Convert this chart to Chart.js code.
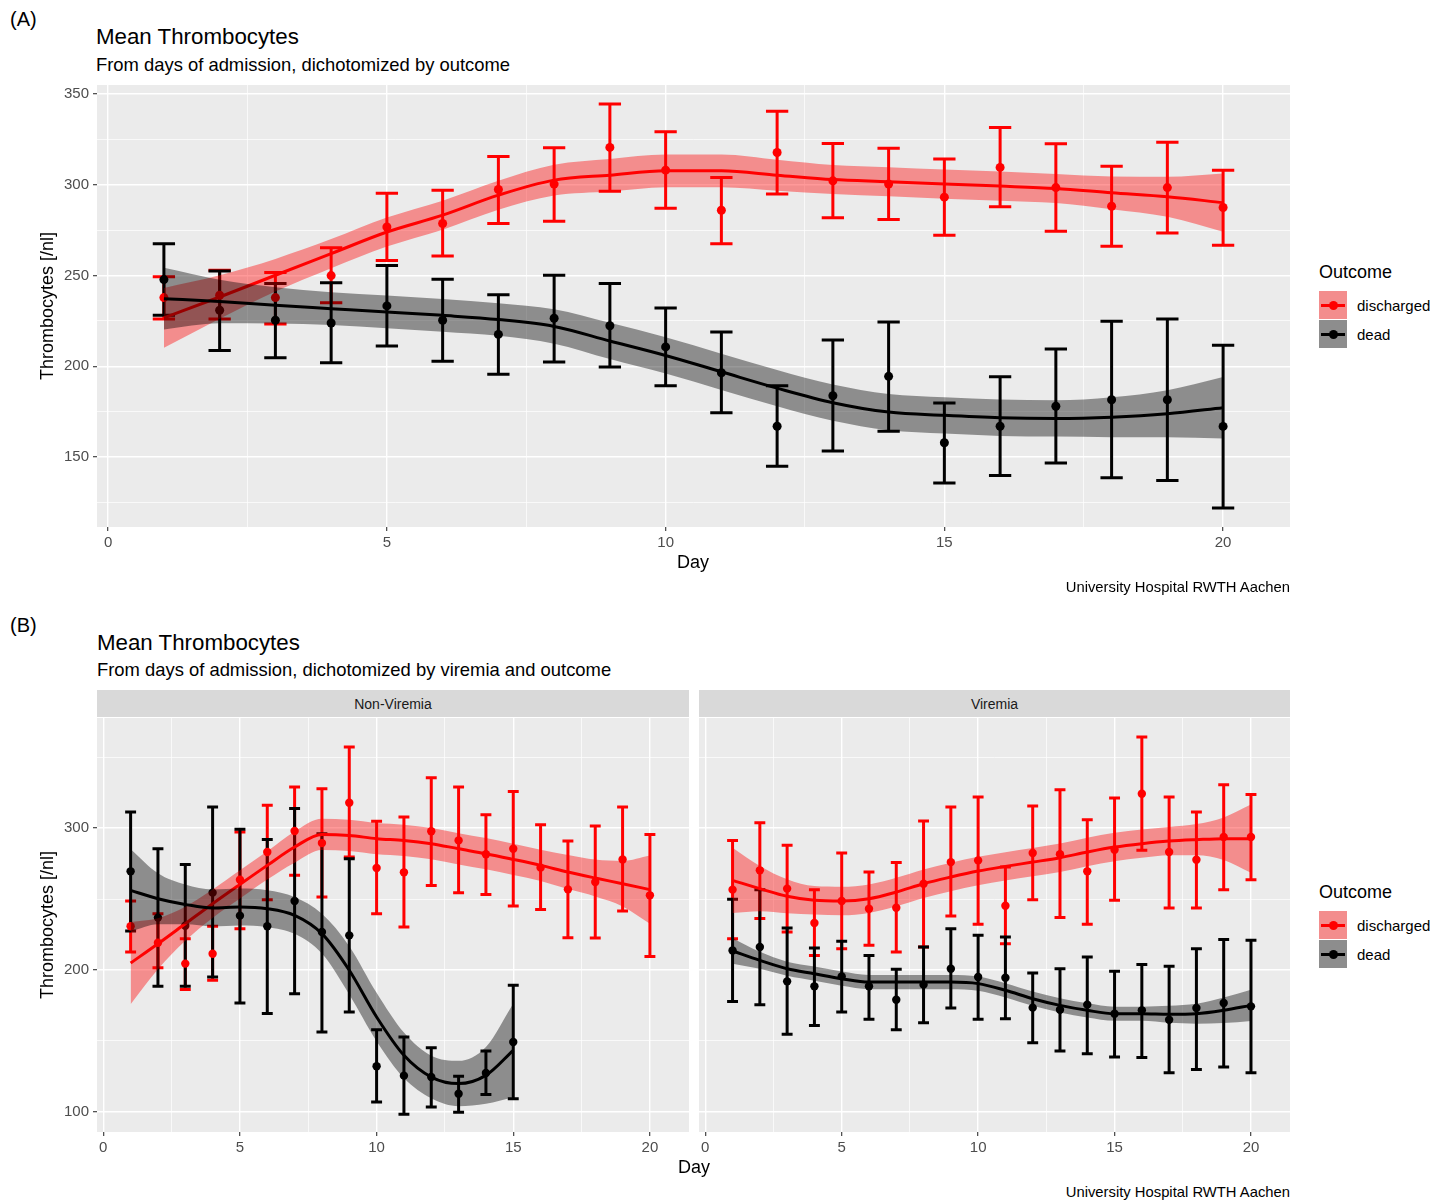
<!DOCTYPE html>
<html>
<head>
<meta charset="utf-8">
<script src="https://cdn.jsdelivr.net/npm/chart.js@4.4.1/dist/chart.umd.min.js"></script>
<style>
  body { margin: 0; background: #fff; font-family: "Liberation Sans", Arial, sans-serif; }
  #page { position: relative; width: 1449px; height: 1200px; overflow: hidden; background: #fff; }
  canvas { position: absolute; }
  .t { position: absolute; white-space: nowrap; color: #000; line-height: 1; }
  .strip { position: absolute; background: #D9D9D9; color: #1A1A1A; font-size: 14px;
           display: flex; align-items: center; justify-content: center; }
  .key { position: absolute; width: 28px; height: 28px; }
  .key i { position: absolute; left: 2px; right: 2px; top: 12.5px; height: 3px; }
  .key b { position: absolute; left: 9.5px; top: 9.5px; width: 9px; height: 9px; border-radius: 50%; }
</style>
</head>
<body>
<div id="page">
  <canvas id="chartA" width="1300" height="500" style="left:0;top:80px"></canvas>
  <canvas id="chartNV" width="689" height="460" style="left:0;top:700px"></canvas>
  <canvas id="chartV" width="591" height="460" style="left:699px;top:700px"></canvas>
</div>
<script>
'use strict';

// ── Data ──────────────────────────────────────────────────────
const DAYS = [1, 2, 3, 4, 5, 6, 7, 8, 9, 10, 11, 12, 13, 14, 15, 16, 17, 18, 19, 20];
const DAYS_15 = [1, 2, 3, 4, 5, 6, 7, 8, 9, 10, 11, 12, 13, 14, 15];

const X_BREAKS = [0, 2.5, 5, 7.5, 10, 12.5, 15, 17.5, 20];
const A_Y_BREAKS = [125, 150, 175, 200, 225, 250, 275, 300, 325, 350];
const B_Y_BREAKS = [100, 150, 200, 250, 300, 350];

// (A) all patients
const A_DIS_MEAN = [237.9, 239.2, 237.9, 250.0, 276.8, 278.7, 297.4, 300.4, 320.6, 308.1, 286.0, 317.8, 302.2, 300.4, 293.2, 309.6, 298.5, 288.2, 298.5, 287.5];
const A_DIS_LO   = [226.1, 226.1, 223.3, 235.1, 258.3, 260.8, 278.7, 280.0, 296.5, 287.1, 267.6, 295.0, 281.8, 280.9, 272.2, 287.9, 274.4, 266.2, 273.5, 266.7];
const A_DIS_HI   = [249.4, 253.0, 251.7, 265.3, 295.4, 297.0, 315.6, 320.4, 344.5, 329.2, 304.0, 340.6, 322.8, 320.2, 314.2, 331.6, 322.6, 310.3, 323.5, 308.1];
const A_DEAD_MEAN = [247.8, 230.9, 225.4, 223.9, 233.3, 225.4, 217.6, 226.5, 222.4, 210.7, 196.5, 167.0, 183.8, 194.5, 157.9, 167.0, 178.0, 181.6, 181.6, 166.9];
const A_DEAD_LO   = [228.1, 208.8, 204.8, 202.0, 211.2, 202.8, 195.6, 202.4, 199.6, 189.3, 174.4, 145.0, 153.3, 164.3, 135.7, 139.9, 146.7, 138.6, 137.1, 122.0];
const A_DEAD_HI   = [267.6, 252.6, 245.6, 246.0, 255.5, 248.0, 239.5, 250.2, 245.6, 232.2, 218.9, 189.3, 214.5, 224.4, 179.8, 194.3, 209.6, 224.8, 226.1, 211.6];
const A_DIS_FIT   = [226.7, 238.2, 250.2, 262.1, 274.0, 283.3, 294.3, 302.6, 305.3, 307.7, 307.7, 305.3, 302.9, 301.7, 300.4, 299.3, 298.0, 295.6, 293.4, 290.2];
const A_DIS_BAND  = [16.5, 12, 9, 8, 8, 8, 8, 8.5, 9, 9, 9, 8.5, 8, 8, 8, 8, 8, 9, 11, 16];
const A_DEAD_FIT  = [237.3, 235.7, 233.6, 231.8, 230.0, 228.1, 225.8, 222.0, 214.0, 206.0, 197.0, 188.0, 180.0, 174.8, 173.0, 171.7, 171.3, 172.0, 173.9, 177.2];
const A_DEAD_BAND = [17, 12, 10, 9, 9, 9, 9, 9.5, 10, 10, 10, 10, 10, 10, 10, 10, 10, 11, 13, 17];

// (B) Non-Viremia
const NV_DIS_MEAN = [230.8, 219.2, 204.5, 211.5, 263.6, 283.1, 297.9, 289.4, 317.8, 271.8, 268.8, 297.7, 291.3, 281.5, 285.4, 272.1, 256.8, 262.0, 277.9, 252.6];
const NV_DIS_LO   = [212.7, 201.6, 186.2, 192.7, 229.1, 249.5, 266.7, 251.4, 279.6, 239.7, 230.3, 259.6, 254.5, 253.1, 245.1, 242.7, 222.8, 222.5, 241.5, 209.6];
const NV_DIS_HI   = [248.6, 239.7, 222.0, 230.8, 297.2, 316.0, 328.9, 327.7, 357.0, 304.7, 307.7, 335.4, 328.9, 309.4, 325.8, 302.3, 290.8, 301.4, 314.8, 295.5];
const NV_DEAD_MEAN = [269.5, 236.9, 231.2, 254.5, 238.3, 230.8, 248.6, 226.8, 224.4, 132.2, 125.6, 124.6, 112.9, 127.5, 149.3];
const NV_DEAD_LO   = [227.5, 188.5, 188.5, 195.1, 176.8, 169.3, 183.3, 156.3, 170.4, 107.0, 98.4, 103.5, 99.8, 112.4, 109.4];
const NV_DEAD_HI   = [311.3, 285.4, 274.4, 314.8, 299.1, 292.0, 313.8, 296.0, 278.4, 158.0, 152.8, 145.3, 125.1, 143.0, 189.2];
const NV_DIS_FIT   = [204.9, 218.5, 232.6, 246.7, 260.3, 273.7, 286.6, 295.5, 294.8, 292.5, 291.3, 289.0, 285.4, 281.9, 277.9, 273.7, 269.0, 264.8, 260.8, 256.6];
const NV_DIS_BAND  = [29, 18, 12, 10, 10, 10, 11, 11, 11, 11, 11, 11, 11, 11, 11, 11, 12, 13, 16, 24];
const NV_DEAD_FIT  = [256.1, 250.2, 246.2, 243.7, 244.4, 243.2, 238.5, 225.6, 199.8, 166.9, 139.9, 124.6, 120.0, 125.8, 143.4];
const NV_DEAD_BAND = [29, 18, 14, 13, 13, 13, 13, 14, 17, 17, 16, 15, 16, 20, 33];

// (B) Viremia
const V_DIS_MEAN = [256.6, 270.2, 257.3, 233.1, 248.6, 243.2, 243.9, 260.8, 276.0, 277.2, 245.3, 282.4, 281.5, 269.5, 284.7, 324.2, 283.1, 277.7, 293.7, 293.7];
const V_DIS_LO   = [222.1, 236.2, 226.8, 210.3, 215.0, 217.4, 212.7, 216.2, 238.0, 232.2, 218.5, 249.5, 236.9, 232.2, 249.1, 284.3, 243.7, 243.7, 256.6, 263.6];
const V_DIS_HI   = [291.3, 303.8, 287.8, 256.6, 282.4, 269.0, 275.8, 304.9, 314.8, 321.8, 272.5, 315.5, 327.0, 305.9, 321.1, 364.1, 321.8, 311.3, 330.5, 323.7];
const V_DEAD_MEAN = [213.8, 216.2, 192.0, 188.5, 195.5, 188.5, 179.1, 189.7, 200.9, 195.1, 194.6, 173.5, 172.0, 175.6, 169.2, 171.6, 165.0, 173.2, 176.8, 174.4];
const V_DEAD_LO   = [177.9, 175.6, 154.7, 161.0, 170.4, 165.3, 158.0, 162.9, 173.2, 165.3, 165.7, 148.8, 143.0, 141.1, 138.7, 138.3, 127.7, 130.0, 131.7, 127.7];
const V_DEAD_HI   = [249.8, 256.6, 229.6, 215.5, 220.2, 210.3, 200.5, 216.2, 229.1, 224.4, 223.2, 197.9, 200.9, 209.2, 199.1, 203.8, 202.6, 215.0, 221.4, 220.9];
const V_DIS_FIT   = [263.1, 257.3, 251.9, 249.1, 248.6, 250.2, 254.9, 260.8, 265.5, 269.7, 273.0, 276.0, 279.1, 283.1, 286.6, 289.0, 290.8, 291.8, 292.5, 292.5];
const V_DIS_BAND  = [23, 16, 12, 10, 10, 10, 10, 10, 10, 10, 10, 10, 10, 10, 10, 10, 10, 11, 15, 24];
const V_DEAD_FIT  = [213.4, 206.8, 200.9, 197.4, 193.9, 191.5, 191.5, 191.5, 191.5, 190.4, 185.7, 179.8, 175.1, 171.6, 169.2, 169.2, 168.8, 169.2, 171.6, 175.1];
const V_DEAD_BAND = [9, 6, 5, 5, 5, 5, 5, 5, 5, 5, 5, 5, 5, 5, 5, 5, 6, 7, 9, 11];

// ── Style ─────────────────────────────────────────────────────
const RED = '#FF0000';
const BLACK = '#000000';
const RED_FILL = 'rgba(255,0,0,0.4)';
const BLACK_FILL = 'rgba(0,0,0,0.4)';
const PANEL_BG = '#EBEBEB';
const TICK_COL = '#4D4D4D';
const FONT = '"Liberation Sans", Arial, sans-serif';

Chart.defaults.font.family = FONT;

// ── Helpers ───────────────────────────────────────────────────
const page = document.getElementById('page');

function txt(s, x, y, size, mode) {
  const d = document.createElement('div');
  d.className = 't';
  d.textContent = s;
  d.style.fontSize = size + 'px';
  d.style.top = y + 'px';
  if (mode === 'right') {
    d.style.right = (1449 - x) + 'px';
    d.style.transform = 'translateY(-50%)';
  } else if (mode === 'center') {
    d.style.left = x + 'px';
    d.style.transform = 'translate(-50%,-50%)';
  } else if (mode === 'rotate') {
    d.style.left = x + 'px';
    d.style.transform = 'translate(-50%,-50%) rotate(-90deg)';
  } else {
    d.style.left = x + 'px';
    d.style.transform = 'translateY(-50%)';
  }
  page.appendChild(d);
}

function strip(s, x0, x1, y0, y1) {
  const d = document.createElement('div');
  d.className = 'strip';
  Object.assign(d.style, { left: x0 + 'px', top: y0 + 'px', width: (x1 - x0) + 'px', height: (y1 - y0) + 'px' });
  d.textContent = s;
  page.appendChild(d);
}

function legend(x, y) {
  txt('Outcome', x, y, 18);
  [['discharged', 'rgb(243,141,141)', RED], ['dead', 'rgb(141,141,141)', BLACK]].forEach(([lab, bg, col], i) => {
    const k = document.createElement('div');
    k.className = 'key';
    k.style.left = x + 'px';
    k.style.top = (y + 19 + i * 29) + 'px';
    k.style.background = bg;
    k.innerHTML = `<i style="background:${col}"></i><b style="background:${col}"></b>`;
    page.appendChild(k);
    txt(lab, x + 38, y + 33 + i * 29, 15);
  });
}

const xy = (days, vals) => days.map((d, i) => ({ x: d, y: vals[i] }));
const band = (days, fit, w, s) => days.map((d, i) => ({ x: d, y: fit[i] + s * w[i] }));

// ── Plugins ───────────────────────────────────────────────────
const panelBg = {
  id: 'panelBg',
  beforeDraw(chart) {
    const a = chart.chartArea;
    chart.ctx.save();
    chart.ctx.fillStyle = PANEL_BG;
    chart.ctx.fillRect(a.left, a.top, a.right - a.left, a.bottom - a.top);
    chart.ctx.restore();
  }
};

function errorBars(groups, lw) {
  return {
    id: 'errorBars',
    beforeDatasetsDraw(chart) {
      const { ctx, scales: { x, y } } = chart;
      ctx.save();
      ctx.lineWidth = lw;
      ctx.lineCap = 'butt';
      groups.forEach(g => {
        ctx.strokeStyle = g.color;
        g.days.forEach((d, i) => {
          const px = x.getPixelForValue(d);
          const x0 = x.getPixelForValue(d - 0.2);
          const x1 = x.getPixelForValue(d + 0.2);
          const yl = y.getPixelForValue(g.lo[i]);
          const yh = y.getPixelForValue(g.hi[i]);
          ctx.beginPath();
          ctx.moveTo(px, yl); ctx.lineTo(px, yh);
          ctx.moveTo(x0, yl); ctx.lineTo(x1, yl);
          ctx.moveTo(x0, yh); ctx.lineTo(x1, yh);
          ctx.stroke();
        });
      });
      ctx.restore();
    }
  };
}

// no label overflow padding: the panel edges are fixed
function noPad(s) {
  s.paddingTop = 0; s.paddingBottom = 0; s.paddingLeft = 0; s.paddingRight = 0;
}

// ── Panel ─────────────────────────────────────────────────────
function panel(id, o) {
  const datasets = [];
  o.groups.forEach((g, k) => {
    const lineOrder = 3 - 2 * k, bandOrder = 4 - 2 * k, ptOrder = 6 - k;
    const fitDays = g.days.slice(0, g.fit.length);
    datasets.push({
      data: band(fitDays, g.fit, g.band, 1), order: bandOrder, fill: '+1',
      backgroundColor: g.fill, borderColor: 'rgba(0,0,0,0)', borderWidth: 0,
      pointRadius: 0, cubicInterpolationMode: 'monotone'
    });
    datasets.push({
      data: band(fitDays, g.fit, g.band, -1), order: bandOrder, fill: false,
      borderColor: 'rgba(0,0,0,0)', borderWidth: 0, pointRadius: 0, cubicInterpolationMode: 'monotone'
    });
    datasets.push({
      data: xy(fitDays, g.fit), order: lineOrder, fill: false,
      borderColor: g.color, borderWidth: o.lineW, pointRadius: 0,
      cubicInterpolationMode: 'monotone', borderJoinStyle: 'round'
    });
    datasets.push({
      data: xy(g.days, g.mean), order: ptOrder, showLine: false,
      pointRadius: o.ptR, pointBackgroundColor: g.color, pointBorderWidth: 0, borderColor: g.color
    });
  });

  const grid = (isMajor, ticks) => ({
    color: '#FFFFFF',
    lineWidth: c => (c.tick && isMajor(c.tick.value)) ? 1.4 : 0.7,
    drawTicks: ticks,
    tickLength: 4,
    tickWidth: 1.1,
    tickColor: c => (c.tick && isMajor(c.tick.value)) ? '#333333' : 'rgba(0,0,0,0)'
  });
  const xMajor = v => v % 5 === 0;
  const yMajor = v => v % o.yMajorStep === 0;

  return new Chart(document.getElementById(id), {
    type: 'line',
    data: { datasets },
    options: {
      responsive: false,
      animation: false,
      events: [],
      layout: { autoPadding: false, padding: { top: o.padTop, right: o.padRight, left: 0, bottom: 0 } },
      plugins: { legend: { display: false }, tooltip: { enabled: false } },
      scales: {
        x: {
          type: 'linear', min: o.xMin, max: o.xMax,
          afterBuildTicks: s => { s.ticks = X_BREAKS.map(v => ({ value: v })); },
          afterFit: s => { s.height = o.xHeight; noPad(s); },
          grid: grid(xMajor, true),
          border: { display: false },
          ticks: {
            autoSkip: false, maxRotation: 0, padding: 3, color: TICK_COL,
            font: { size: 15 }, callback: v => xMajor(v) ? String(v) : ''
          }
        },
        y: {
          type: 'linear', min: o.yMin, max: o.yMax,
          afterBuildTicks: s => { s.ticks = o.yBreaks.map(v => ({ value: v })); },
          afterFit: s => { s.width = o.showY ? 97 : 0; noPad(s); },
          grid: grid(yMajor, o.showY),
          border: { display: false },
          ticks: {
            display: o.showY, autoSkip: false, padding: 4, color: TICK_COL,
            font: { size: 15 }, callback: v => yMajor(v) ? String(v) : ''
          }
        }
      }
    },
    plugins: [panelBg, errorBars(o.groups, o.errW)]
  });
}

function groups(days, dis, dead) {
  return [
    { days: DAYS, color: RED, fill: RED_FILL, ...dis },
    { days: days, color: BLACK, fill: BLACK_FILL, ...dead }
  ];
}

// ── Panel A ───────────────────────────────────────────────────
panel('chartA', {
  xMin: -0.2, xMax: 21.2, yMin: 111.5, yMax: 355,
  yBreaks: A_Y_BREAKS, yMajorStep: 50, showY: true,
  padTop: 5, padRight: 10, xHeight: 53, lineW: 3, errW: 3, ptR: 4.5,
  groups: groups(DAYS,
    { mean: A_DIS_MEAN, lo: A_DIS_LO, hi: A_DIS_HI, fit: A_DIS_FIT, band: A_DIS_BAND },
    { mean: A_DEAD_MEAN, lo: A_DEAD_LO, hi: A_DEAD_HI, fit: A_DEAD_FIT, band: A_DEAD_BAND })
});

// ── Panel B ───────────────────────────────────────────────────
const B_COMMON = {
  xMin: -0.23, xMax: 21.43, yMin: 85.9, yMax: 377.5,
  yBreaks: B_Y_BREAKS, yMajorStep: 100,
  padTop: 18, padRight: 0, xHeight: 28, lineW: 3, errW: 3, ptR: 4.2
};

panel('chartNV', Object.assign({}, B_COMMON, {
  showY: true,
  groups: groups(DAYS_15,
    { mean: NV_DIS_MEAN, lo: NV_DIS_LO, hi: NV_DIS_HI, fit: NV_DIS_FIT, band: NV_DIS_BAND },
    { mean: NV_DEAD_MEAN, lo: NV_DEAD_LO, hi: NV_DEAD_HI, fit: NV_DEAD_FIT, band: NV_DEAD_BAND })
}));

panel('chartV', Object.assign({}, B_COMMON, {
  showY: false,
  groups: groups(DAYS,
    { mean: V_DIS_MEAN, lo: V_DIS_LO, hi: V_DIS_HI, fit: V_DIS_FIT, band: V_DIS_BAND },
    { mean: V_DEAD_MEAN, lo: V_DEAD_LO, hi: V_DEAD_HI, fit: V_DEAD_FIT, band: V_DEAD_BAND })
}));

// ── Text ──────────────────────────────────────────────────────
txt('(A)', 10, 19, 20);
txt('Mean Thrombocytes', 96, 37, 22.3);
txt('From days of admission, dichotomized by outcome', 96, 65, 18.4);
txt('Thrombocytes [/nl]', 47, 306, 18, 'rotate');
txt('Day', 693, 562, 18, 'center');
txt('University Hospital RWTH Aachen', 1290, 587, 14.8, 'right');
legend(1319, 272);

txt('(B)', 10, 625, 20);
txt('Mean Thrombocytes', 97, 643, 22.3);
txt('From days of admission, dichotomized by viremia and outcome', 97, 670, 18.4);
strip('Non-Viremia', 97, 689, 690, 717);
strip('Viremia', 699, 1290, 690, 717);
txt('Thrombocytes [/nl]', 47, 925, 18, 'rotate');
txt('Day', 694, 1167, 18, 'center');
txt('University Hospital RWTH Aachen', 1290, 1192, 14.8, 'right');
legend(1319, 892);
</script>
</body>
</html>
